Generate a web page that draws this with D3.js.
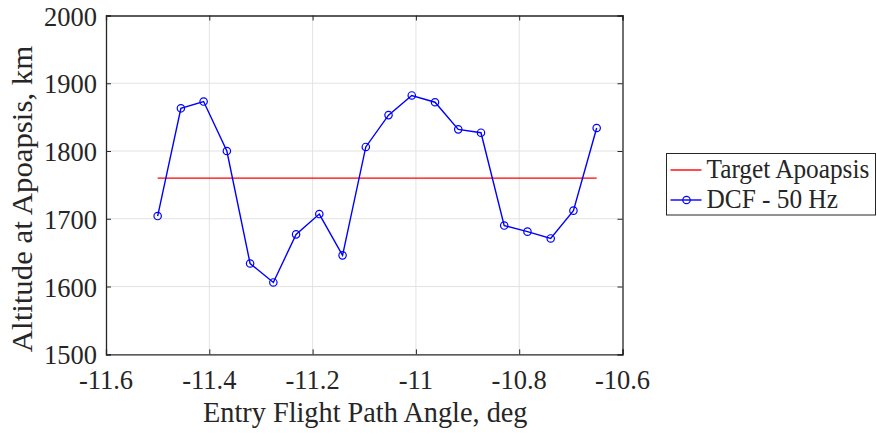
<!DOCTYPE html>
<html>
<head>
<meta charset="utf-8">
<script src="https://cdn.jsdelivr.net/npm/d3@7"></script>
<style>
  html, body { margin: 0; padding: 0; background: #fff; }
  svg { display: block; }
  text { font-family: "Liberation Serif", "Times New Roman", serif; fill: #262626; }
</style>
</head>
<body>
<svg id="chart" width="877" height="434"></svg>
<script>
// ---- data ----
const angles = [-11.5, -11.455, -11.411, -11.366, -11.321, -11.276, -11.232, -11.187, -11.142, -11.097,
                -11.053, -11.008, -10.963, -10.918, -10.874, -10.829, -10.784, -10.739, -10.695, -10.65];
const apoapsis = [1704, 1863, 1873, 1800, 1634, 1606, 1677, 1707, 1646, 1806,
                  1853, 1882, 1872, 1832, 1827, 1690, 1681, 1671, 1712, 1834];
const targetAngles = [-11.5, -10.65];
const targetValues = [1760, 1760];
const xTicks = [-11.6, -11.4, -11.2, -11, -10.8, -10.6];
const xTickLabels = ["-11.6", "-11.4", "-11.2", "-11", "-10.8", "-10.6"];
const yTicks = [1500, 1600, 1700, 1800, 1900, 2000];
const yTickLabels = ["1500", "1600", "1700", "1800", "1900", "2000"];
const seriesNames = ["Target Apoapsis", "DCF - 50 Hz"];
const xLabel = "Entry Flight Path Angle, deg";
const yLabel = "Altitude at Apoapsis, km";

// ---- layout ----
const L = 106, R = 622.5, T = 15.5, B = 354.3;
const svg = d3.select("#chart");
const x = d3.scaleLinear().domain([-11.6, -10.6]).range([L, R]);
const y = d3.scaleLinear().domain([1500, 2000]).range([B, T]);
const axisColor = "#262626";
const gridColor = "#e3e3e3";

// grid
const grid = svg.append("g");
grid.selectAll("line.gx").data(xTicks.slice(1, -1)).join("line")
  .attr("x1", d => x(d)).attr("x2", d => x(d)).attr("y1", T).attr("y2", B)
  .attr("stroke", gridColor).attr("stroke-width", 1);
grid.selectAll("line.gy").data(yTicks.slice(1, -1)).join("line")
  .attr("y1", d => y(d)).attr("y2", d => y(d)).attr("x1", L).attr("x2", R)
  .attr("stroke", gridColor).attr("stroke-width", 1);

// axes (ticks inward, box)
const tickLen = 5;
const xAxisB = d3.axisBottom(x).tickValues(xTicks).tickSize(-tickLen).tickFormat("");
const xAxisT = d3.axisTop(x).tickValues(xTicks).tickSize(-tickLen).tickFormat("");
const yAxisL = d3.axisLeft(y).tickValues(yTicks).tickSize(-tickLen).tickFormat("");
const yAxisR = d3.axisRight(y).tickValues(yTicks).tickSize(-tickLen).tickFormat("");
function styleAxis(g) {
  g.selectAll("path").attr("stroke", axisColor).attr("stroke-width", 1.3);
  g.selectAll("line").attr("stroke", axisColor).attr("stroke-width", 1);
}
svg.append("g").attr("transform", `translate(0,${B})`).call(xAxisB).call(styleAxis);
svg.append("g").attr("transform", `translate(0,${T})`).call(xAxisT).call(styleAxis);
svg.append("g").attr("transform", `translate(${L},0)`).call(yAxisL).call(styleAxis);
svg.append("g").attr("transform", `translate(${R},0)`).call(yAxisR).call(styleAxis);

// tick labels
const sy = 1.07;
svg.append("g").selectAll("text").data(xTicks).join("text")
  .attr("transform", d => `translate(${x(d)},389) scale(1,${sy})`)
  .attr("text-anchor", "middle").attr("font-size", 26.5)
  .text((d, i) => xTickLabels[i]);
svg.append("g").selectAll("text").data(yTicks).join("text")
  .attr("transform", d => `translate(97,${y(d) + 10}) scale(1,${sy})`)
  .attr("text-anchor", "end").attr("font-size", 26.5)
  .text((d, i) => yTickLabels[i]);

// axis labels
svg.append("text")
  .attr("transform", `translate(${(L + R) / 2 + 1},422) scale(1,${sy})`)
  .attr("text-anchor", "middle").attr("font-size", 28.3).text(xLabel);
svg.append("text")
  .attr("transform", `translate(32,199) rotate(-90) scale(${sy},1)`)
  .attr("text-anchor", "middle").attr("font-size", 28.8).text(yLabel);

// target line
const line = d3.line().x(d => x(d[0])).y(d => y(d[1]));
svg.append("path")
  .attr("d", line(targetAngles.map((a, i) => [a, targetValues[i]])))
  .attr("fill", "none").attr("stroke", "#ff0000").attr("stroke-width", 1.4);

// DCF series
const pts = angles.map((a, i) => [a, apoapsis[i]]);
svg.append("path").attr("d", line(pts))
  .attr("fill", "none").attr("stroke", "#0000ff").attr("stroke-width", 1.4);
svg.append("g").selectAll("circle").data(pts).join("circle")
  .attr("cx", d => x(d[0])).attr("cy", d => y(d[1])).attr("r", 3.7)
  .attr("fill", "none").attr("stroke", "#0000ff").attr("stroke-width", 1.2);

// legend
const lg = svg.append("g");
lg.append("rect").attr("x", 666.5).attr("y", 153.5).attr("width", 209).attr("height", 61.5)
  .attr("fill", "#fff").attr("stroke", axisColor).attr("stroke-width", 1);
lg.append("line").attr("x1", 670.5).attr("x2", 701.5).attr("y1", 170).attr("y2", 170)
  .attr("stroke", "#ff0000").attr("stroke-width", 1.4);
lg.append("line").attr("x1", 670.5).attr("x2", 701.5).attr("y1", 200).attr("y2", 200)
  .attr("stroke", "#0000ff").attr("stroke-width", 1.4);
lg.append("circle").attr("cx", 686.5).attr("cy", 200).attr("r", 3.7)
  .attr("fill", "none").attr("stroke", "#0000ff").attr("stroke-width", 1.2);
lg.selectAll("text").data(seriesNames).join("text")
  .attr("transform", (d, i) => `translate(706.5,${i === 0 ? 178.3 : 208.3}) scale(1,${sy})`)
  .attr("font-size", 25.3).attr("fill", "#000").text(d => d);
</script>
</body>
</html>
